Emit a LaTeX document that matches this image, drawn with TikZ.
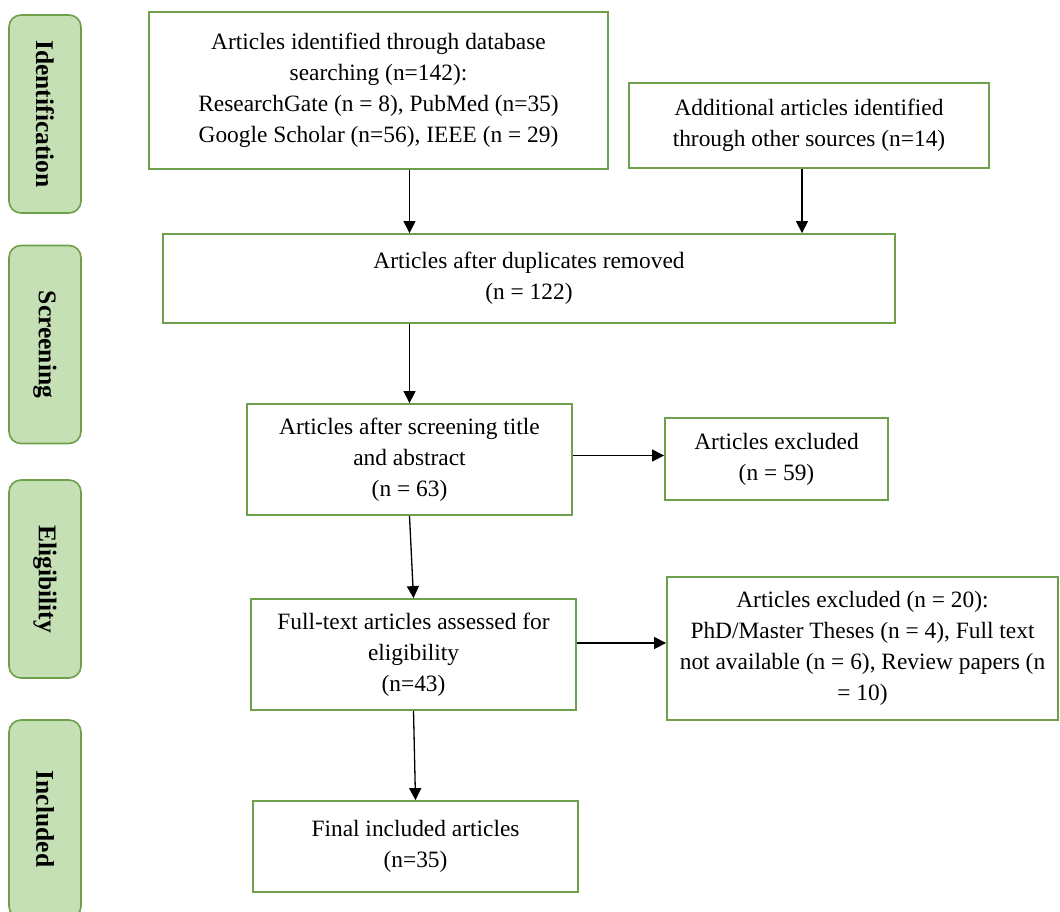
\documentclass[tikz,border=0pt]{standalone}
\usepackage{fontspec}
\setmainfont{Liberation Serif}
\usetikzlibrary{arrows.meta}
\definecolor{boxgreen}{HTML}{6E9F4A}
\definecolor{stagefill}{HTML}{C5E0B4}

\begin{document}
\begin{tikzpicture}[x=1pt, y=-1pt, thick,
    box/.style = {draw=boxgreen, line width=1.8pt, inner sep=0pt, align=center,
      font=\fontsize{23.4}{31}\selectfont},
    stage/.style = {draw=boxgreen, fill=stagefill, line width=1.6pt, rounded corners=12pt,
      rotate=-90, minimum width=198pt, minimum height=72pt, inner sep=0pt,
      font=\fontsize{25.5}{28}\selectfont\bfseries},
    flow/.style = {-{Triangle[length=12pt, width=12pt]}, line width=1.3pt}]

      \useasboundingbox (0,0) rectangle (1060,911);
      \clip (0,0) rectangle (1060,911);

      % stage bars on the left
      \foreach \i/\name/\y in {0/Identification/114, 1/Screening/344.5, 2/Eligibility/579, 3/Included/819}
        \node[stage] (STG_\i) at (45,\y) {\name};

      % flow boxes
      \node[box, minimum width=459pt, minimum height=157pt] (BOX_db) at (378.5,90.5)
        {Articles identified through database\\searching (n=142):\\ResearchGate (n = 8), PubMed (n=35)\\Google Scholar (n=56), IEEE (n = 29)};
      \node[box, minimum width=360pt, minimum height=85pt] (BOX_other) at (809,125.5)
        {Additional articles identified\\through other sources (n=14)};
      \node[box, minimum width=732pt, minimum height=89pt] (BOX_dup) at (529,278.5)
        {Articles after duplicates removed\\(n = 122)};
      \node[box, minimum width=325pt, minimum height=111pt] (BOX_screen) at (409.5,459.5)
        {Articles after screening title\\and abstract\\(n = 63)};
      \node[box, minimum width=223pt, minimum height=82pt] (BOX_excl_1) at (776.5,459)
        {Articles excluded\\(n = 59)};
      \node[box, minimum width=325pt, minimum height=111pt] (BOX_full) at (413.5,654.5)
        {Full-text articles assessed for\\eligibility\\(n=43)};
      \node[box, minimum width=391pt, minimum height=143pt] (BOX_excl_2) at (862.5,648.5)
        {Articles excluded (n = 20):\\PhD/Master Theses (n = 4), Full text\\not available (n = 6), Review papers (n\\= 10)};
      \node[box, minimum width=325pt, minimum height=91pt] (BOX_final) at (415.5,846.5)
        {Final included articles\\(n=35)};

      \coordinate (TAP_other) at ([xshift=-7pt]BOX_other.south);
      \coordinate (TAP_screen) at ([yshift=4pt]BOX_screen.east);
      \coordinate (TAP_full) at ([yshift=11.5pt]BOX_full.east);

      \draw[flow] (BOX_db.south -| BOX_screen.north) to (BOX_dup.north -| BOX_screen.north);
      \draw[flow] (TAP_other) to (TAP_other |- BOX_dup.north);
      \draw[flow] (BOX_dup.south -| BOX_screen.north) to (BOX_screen.north);
      \draw[flow] (BOX_screen.south) to (BOX_full.north);
      \draw[flow] (BOX_full.south) to (BOX_final.north);

      \draw[flow] (TAP_screen) to (TAP_screen -| BOX_excl_1.west);
      \draw[flow] (TAP_full) to (TAP_full -| BOX_excl_2.west);

\end{tikzpicture}
\end{document}
